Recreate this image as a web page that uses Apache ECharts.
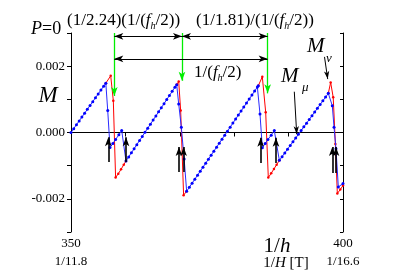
<!DOCTYPE html>
<html><head><meta charset="utf-8">
<script src="https://cdn.jsdelivr.net/npm/echarts@6/dist/echarts.min.js"></script>
<style>html,body{margin:0;padding:0;background:#fff}#c{width:399px;height:278px}</style>
</head><body><div id="c"></div>
<script>
// Magnetization M (units of 1e-3) versus 1/h
const blueX = [350.0,350.5,351.0,351.5,352.0,352.5,353.0,353.5,354.0,354.5,355.0,355.5,356.0,356.4,
  356.75,357.17,357.7,358.2,358.8,359.32,360.11,
  360.6,361.1,361.6,362.1,362.6,363.1,363.6,364.1,364.6,365.1,365.6,366.1,366.6,367.1,367.6,368.1,368.6,369.1,369.43,
  369.8,370.28,370.8,371.26,
  371.76,372.26,372.76,373.26,373.76,374.26,374.76,375.26,375.76,376.26,376.76,377.26,377.76,378.26,378.76,379.26,379.76,380.26,380.76,381.26,381.76,382.26,382.76,383.26,383.76,384.26,384.43,
  384.74,385.17,385.7,386.2,386.8,387.37,388.3,
  388.8,389.3,389.8,390.3,390.8,391.3,391.8,392.3,392.8,393.3,393.8,394.3,394.8,395.3,395.8,396.3,396.8,397.3,
  398.03,398.35,398.71,399.14,400.0];
const blueY = [0.000,0.116,0.233,0.349,0.465,0.581,0.698,0.814,0.930,1.046,1.163,1.279,1.395,1.488,
  0.66,-0.45,-0.33,-0.21,-0.07,0.06,-0.86,
  -0.737,-0.613,-0.490,-0.366,-0.243,-0.119,0.005,0.128,0.252,0.375,0.499,0.622,0.746,0.869,0.993,1.116,1.240,1.363,1.44,
  0.86,0.16,-0.80,-1.77,
  -1.649,-1.529,-1.408,-1.287,-1.166,-1.046,-0.925,-0.804,-0.683,-0.563,-0.442,-0.321,-0.200,-0.080,0.041,0.162,0.283,0.404,0.524,0.645,0.766,0.887,1.007,1.128,1.249,1.370,1.41,
  0.56,-0.46,-0.33,-0.21,-0.08,0.06,-0.84,
  -0.728,-0.616,-0.503,-0.391,-0.279,-0.167,-0.055,0.058,0.170,0.282,0.394,0.506,0.619,0.731,0.843,0.955,1.067,1.18,
  0.81,0.16,-0.49,-1.64,-1.54];
// red branches (null separates branches)
const redX = [356.4,357.3,357.78,358.2,358.7,359.2,359.7,360.11, null,
  369.43,369.8,370.16,370.7,371.26, null,
  384.43,385.17,385.79,386.27,386.8,387.3,387.8,388.3, null,
  397.3,397.73,398.2,398.6,398.96,399.5,400.0];
const redY = [1.488,1.71,0.96,-1.36,-1.24,-1.11,-0.97,-0.86, null,
  1.44,1.54,0.66,-1.89,-1.77, null,
  1.41,1.68,0.61,-1.36,-1.23,-1.10,-0.97,-0.84, null,
  1.18,1.51,1.06,-0.35,-1.84,-1.72,-1.60];
// black upward arrows
const upX    = [356.86,360.11,369.85,370.7,384.87,387.68,398.03,398.71];
const upFrom = [-0.89,-0.89,-1.19,-1.19,-0.92,-0.92,-1.22,-1.22];
const upTo   = [-0.14,-0.14,-0.44,-0.44,-0.16,-0.16,-0.44,-0.44];
// green downward arrows
const greenX  = [357.96,370.40,386.15];
const greenTo = [1.10,1.56,1.18];
const greenFrom = 3.0;
// horizontal double arrows rows
const spanRow1Y = 2.90, spanRow2Y = 2.22;
// label arrows (M_nu, M_mu)
const labelArrows = [[396.6,2.28,397.19,1.61],[391.05,1.23,391.49,-0.05]];
// axes
const xMin = 350, xMax = 400, xStep = 10;
const yMin = -3, yMax = 3, yStep = 1;
const xTickText = {350:'350\n1/11.8', 400:'400\n1/16.6'};
const yTickText = {'2':'0.002','0':'0.000','-2':'-0.002'};

const SERIF = 'Liberation Serif';
const chart = echarts.init(document.getElementById('c'), null, {renderer:'canvas'});

const blueData = blueX.map((x,i)=>[x, blueY[i]]);
const redSegs = []; let cur = [];
redX.forEach((x,i)=>{ if (x===null){ redSegs.push(cur); cur=[]; } else cur.push([x, redY[i]]); });
if (cur.length) redSegs.push(cur);

const series = [];
redSegs.forEach(seg=>series.push({type:'line', data:seg, symbol:'circle', symbolSize:2.5,
  itemStyle:{color:'#ff0000'}, lineStyle:{color:'#ff0000', width:1}, z:2, silent:true}));
series.push({type:'line', data:blueData, symbol:'circle', symbolSize:3,
  itemStyle:{color:'#0000ff'}, lineStyle:{color:'#2a2aff', width:1}, z:3, silent:true});

function ml(lines, color, width, symbols, size){
  return {type:'line', data:[], z:5, silent:true,
    markLine:{silent:true, animation:false, symbol:symbols, symbolSize:size,
      label:{show:false}, lineStyle:{color:color, width:width, type:'solid'},
      emphasis:{disabled:true},
      data: lines.map(l=>[{coord:[l[0],l[1]]},{coord:[l[2],l[3]]}])}};
}
series.push(ml(upX.map((x,i)=>[x,upFrom[i],x,upTo[i]]), '#000', 1.6, ['none','arrow'], [5,9]));
series.push(ml(greenX.map((x,i)=>[x,greenFrom,x,greenTo[i]]), '#00ee00', 1.3, ['none','arrow'], [5,9]));
series.push(ml([[greenX[0],spanRow1Y,greenX[1],spanRow1Y],[greenX[1],spanRow1Y,greenX[2],spanRow1Y],
  [greenX[0],spanRow2Y,greenX[2],spanRow2Y]], '#000', 1, ['arrow','arrow'], [5,9]));
series.push(ml(labelArrows, '#000', 1, ['none','arrow'], [4,8]));

const axisLine = {show:true, lineStyle:{color:'#000', width:1}};
const option = {
  animation:false,
  backgroundColor:'#fff',
  grid:{left:71, right:56, top:33, bottom:46},
  xAxis:[
    {type:'value', min:xMin, max:xMax, interval:xStep, position:'bottom',
     axisLine:axisLine, splitLine:{show:false},
     axisTick:{show:true, inside:false, length:4, lineStyle:{color:'#000'}},
     axisLabel:{margin:3, fontFamily:SERIF, fontSize:13, color:'#000', lineHeight:18,
       formatter:v=>xTickText[v]||''}},
    {type:'value', min:xMin, max:xMax, interval:xStep, position:'top',
     axisLine:axisLine, splitLine:{show:false},
     axisTick:{show:true, inside:true, length:3, lineStyle:{color:'#000'}},
     axisLabel:{show:false}}
  ],
  yAxis:[
    {type:'value', min:yMin, max:yMax, interval:yStep, position:'left',
     axisLine:axisLine, splitLine:{show:false},
     axisTick:{show:true, inside:false, length:4, lineStyle:{color:'#000'}},
     axisLabel:{margin:6, fontFamily:SERIF, fontSize:13, color:'#000',
       formatter:v=>yTickText[String(Math.round(v))]||''}},
    {type:'value', min:yMin, max:yMax, interval:yStep, position:'right',
     axisLine:axisLine, splitLine:{show:false},
     axisTick:{show:true, inside:true, length:3, lineStyle:{color:'#000'}},
     axisLabel:{show:false}}
  ],
  series: series,
  graphic:[
    {type:'text', x:31, y:29, style:{text:'{i|P}{n|=0}', textVerticalAlign:'middle',
      rich:{i:{fontFamily:SERIF, fontSize:18, fontStyle:'italic', fill:'#000'}, n:{fontFamily:SERIF, fontSize:18, fill:'#000'}}}},
    {type:'text', x:67, y:21, style:{text:'{n|(1/2.24)(1/(}{i|f}{s|h}{n|/2))}', textVerticalAlign:'middle',
      rich:{n:{fontFamily:SERIF, fontSize:17, fill:'#000', lineHeight:20, verticalAlign:'middle'},
            i:{fontFamily:SERIF, fontSize:17, fontStyle:'italic', fill:'#000', lineHeight:20, verticalAlign:'middle'},
            s:{fontFamily:SERIF, fontSize:10, fontStyle:'italic', fill:'#000', lineHeight:10, verticalAlign:'bottom'}}}},
    {type:'text', x:196, y:21, style:{text:'{n|(1/1.81)/(1/(}{i|f}{s|h}{n|/2))}', textVerticalAlign:'middle',
      rich:{n:{fontFamily:SERIF, fontSize:17, fill:'#000', lineHeight:20, verticalAlign:'middle'},
            i:{fontFamily:SERIF, fontSize:17, fontStyle:'italic', fill:'#000', lineHeight:20, verticalAlign:'middle'},
            s:{fontFamily:SERIF, fontSize:10, fontStyle:'italic', fill:'#000', lineHeight:10, verticalAlign:'bottom'}}}},
    {type:'text', x:194, y:73, style:{text:'{n|1/(}{i|f}{s|h}{n|/2)}', textVerticalAlign:'middle',
      rich:{n:{fontFamily:SERIF, fontSize:17, fill:'#000', lineHeight:20, verticalAlign:'middle'},
            i:{fontFamily:SERIF, fontSize:17, fontStyle:'italic', fill:'#000', lineHeight:20, verticalAlign:'middle'},
            s:{fontFamily:SERIF, fontSize:10, fontStyle:'italic', fill:'#000', lineHeight:10, verticalAlign:'bottom'}}}},
    {type:'text', x:48, y:96, style:{text:'M', font:'italic 23px "Liberation Serif"', fill:'#000', textAlign:'center', textVerticalAlign:'middle'}},
    {type:'text', x:307, y:46, style:{text:'M', font:'italic 21px "Liberation Serif"', fill:'#000', textVerticalAlign:'middle'}},
    {type:'text', x:326, y:59, style:{text:'ν', font:'italic 13px "Liberation Serif"', fill:'#000', textVerticalAlign:'middle'}},
    {type:'text', x:281, y:76, style:{text:'M', font:'italic 21px "Liberation Serif"', fill:'#000', textVerticalAlign:'middle'}},
    {type:'text', x:302, y:88, style:{text:'μ', font:'italic 13px "Liberation Serif"', fill:'#000', textVerticalAlign:'middle'}},
    {type:'text', x:277, y:246, style:{text:'{n|1/}{i|h}', textAlign:'center', textVerticalAlign:'middle',
      rich:{n:{fontFamily:SERIF, fontSize:21, fill:'#000'}, i:{fontFamily:SERIF, fontSize:21, fontStyle:'italic', fill:'#000'}}}},
    {type:'text', x:286, y:263, style:{text:'{n|1/}{i|H}{n| [T]}', textAlign:'center', textVerticalAlign:'middle',
      rich:{n:{fontFamily:SERIF, fontSize:15, fill:'#000'}, i:{fontFamily:SERIF, fontSize:15, fontStyle:'italic', fill:'#000'}}}}
  ]
};
chart.setOption(option);
</script>
</body></html>
